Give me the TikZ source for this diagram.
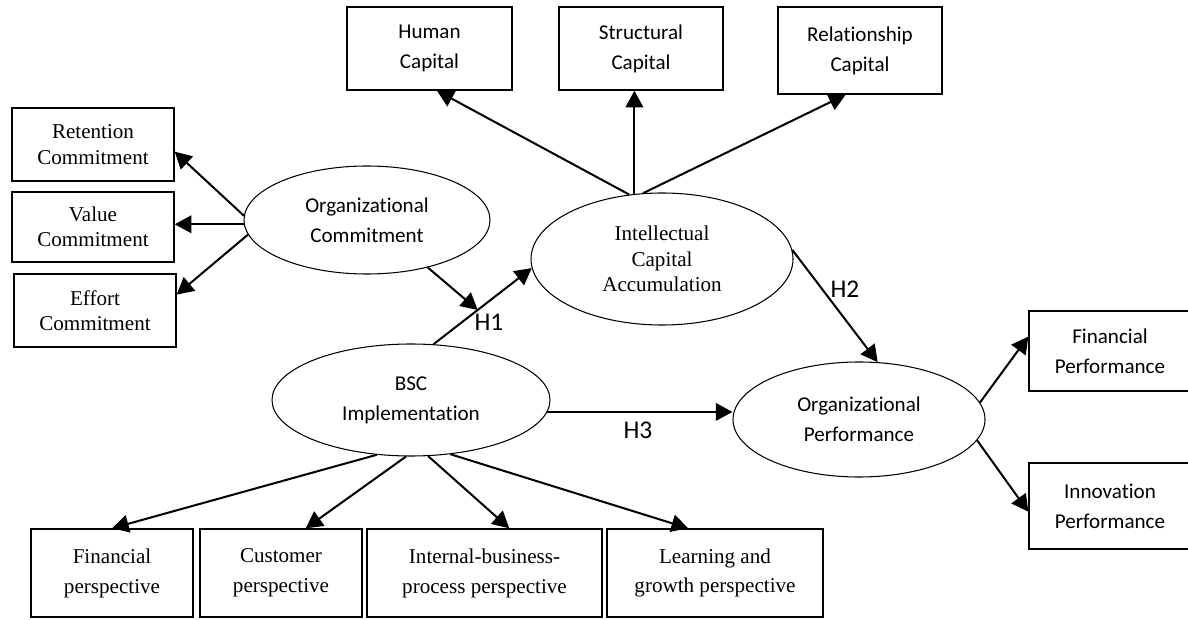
\documentclass[tikz,border=0pt]{standalone}
\usepackage{fontspec}
\setmainfont[Ligatures=NoCommon]{Liberation Serif}
\newfontfamily\calibri[Ligatures=NoCommon]{Carlito}
\usetikzlibrary{arrows.meta,shapes.geometric}

\begin{document}
\begin{tikzpicture}[
    indicator/.style={draw, line width=0.8pt, inner sep=0pt, align=center},
    construct/.style={draw, ellipse, line width=0.6pt, inner sep=0pt, align=center},
    serifbody/.style={font=\fontsize{12}{14.5}\selectfont},
    seriflong/.style={font=\fontsize{12}{17}\selectfont},
    sansbody/.style={font=\calibri\fontsize{12}{17}\selectfont},
    hyp/.style={font=\calibri\fontsize{14.5}{16}\selectfont},
    link/.style={line width=1.15pt, -{Triangle[length=9.5pt,width=10pt]}}
]
    \useasboundingbox (0,0) rectangle (23.76,12.38);

    % Intellectual capital dimensions along the top
    \node[indicator, sansbody, minimum width=3.30cm, minimum height=1.66cm] (hum) at (8.59, 11.41) {Human\\Capital};
    \node[indicator, sansbody, minimum width=3.28cm, minimum height=1.66cm] (str) at (12.82, 11.41) {Structural\\Capital};
    \node[indicator, sansbody, minimum width=3.28cm, minimum height=1.74cm] (rel) at (17.20, 11.37) {Relationship\\Capital};

    % Commitment dimensions on the left
    \node[indicator, serifbody, minimum width=3.24cm, minimum height=1.46cm] (ret) at (1.86, 9.49) {Retention\\Commitment};
    \node[indicator, serifbody, minimum width=3.24cm, minimum height=1.40cm] (val) at (1.86, 7.84) {Value\\Commitment};
    \node[indicator, serifbody, minimum width=3.24cm, minimum height=1.46cm] (eff) at (1.90, 6.17) {Effort\\Commitment};

    % The four latent constructs
    \node[construct, sansbody, minimum width=4.92cm, minimum height=2.16cm] (oc) at (7.34, 7.98) {Organizational\\Commitment};
    \node[construct, serifbody, minimum width=5.24cm, minimum height=2.64cm] (ic) at (13.24, 7.20) {Intellectual\\Capital\\Accumulation};
    \node[construct, sansbody, minimum width=5.56cm, minimum height=2.24cm] (bsc) at (8.22, 4.38) {BSC\\Implementation};
    \node[construct, sansbody, minimum width=5.04cm, minimum height=2.30cm] (op) at (17.18, 3.99) {Organizational\\Performance};

    % Performance dimensions on the right
    \node[indicator, sansbody, minimum width=3.24cm, minimum height=1.60cm] (finp) at (22.20, 5.36) {Financial\\Performance};
    \node[indicator, sansbody, minimum width=3.24cm, minimum height=1.72cm] (inno) at (22.20, 2.26) {Innovation\\Performance};

    % BSC perspectives along the bottom
    \node[indicator, seriflong, minimum width=3.24cm, minimum height=1.76cm] (fin) at (2.24, 0.92) {Financial\\perspective};
    \node[indicator, seriflong, minimum width=3.24cm, minimum height=1.76cm] (cus) at (5.62, 0.92) {Customer\\perspective};
    \node[indicator, seriflong, minimum width=4.70cm, minimum height=1.76cm] (ibp) at (9.69, 0.92) {Internal-business-\\process perspective};
    \node[indicator, seriflong, minimum width=4.32cm, minimum height=1.76cm] (lrn) at (14.30, 0.92) {Learning and\\growth perspective};

    % Commitment arrows
    \draw[link] (oc.178) -- (ret.-5);
    \draw[link] (oc.182) -- (oc.182 -| val.east);
    \draw[link] (oc.187) -- (eff.11);

    % Intellectual capital arrows
    \draw[link] (ic.117) -- (hum.-80);
    \draw[link] (ic.113) -- (ic.113 |- str.south);
    \draw[link] (ic.106) -- (rel.-108);

    % Hypothesised paths
    \draw[link] (bsc.68) -- coordinate[pos=0.45] (hmid) (ic.184);
    \draw[link] (oc.-38) -- (hmid);
    \draw[link] (ic.4) -- (op.72);
    \draw[link] (bsc.-5) -- (bsc.-5 -| op.west);

    \node[hyp] (h1) at (9.78, 5.94) {H1};
    \node[hyp] (h2) at (16.90, 6.60) {H2};
    \node[hyp] (h3) at (12.76, 3.78) {H3};

    % Performance arrows
    \draw[link] (op.8) -- (finp.170);
    \draw[link] (op.-10) -- (inno.184);

    % Perspective arrows
    \draw[link] (bsc.-122) -- (fin.north);
    \draw[link] (bsc.-95) -- (cus.61);
    \draw[link] (bsc.-73) -- (ibp.61);
    \draw[link] (bsc.-54) -- (lrn.121);
\end{tikzpicture}
\end{document}
